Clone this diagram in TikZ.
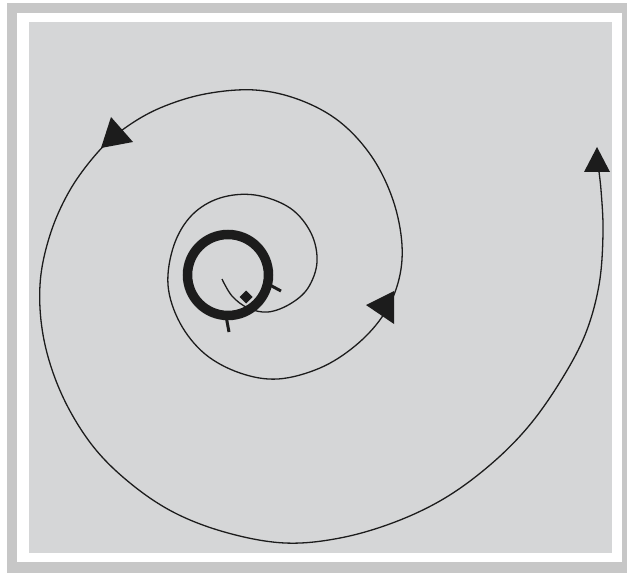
\documentclass[tikz,border=0pt]{standalone}
\definecolor{bandgray}{RGB}{199,199,199}
\definecolor{innergray}{RGB}{213,214,215}
\definecolor{ink}{RGB}{28,28,28}
\begin{document}
\begin{tikzpicture}[x=1bp,y=-1bp,
  spiralline/.style={draw=ink, line width=1.3bp},
  tiphead/.style={fill=ink},
  ringline/.style={draw=ink, line width=9.5bp},
  tickline/.style={draw=ink, line width=3bp}]
\useasboundingbox (0,0) rectangle (627,573);
\fill[white] (0,0) rectangle (627,573);
\fill[bandgray] (7,3) rectangle (627,573);
\fill[white] (17,13) rectangle (622,562);
\fill[innergray] (29,22) rectangle (612,553);
% spiral
\draw[spiralline] plot[smooth,tension=0.6] coordinates {
 (222,279) (232,296) (248,308) (268,312) (290,304) (308,288) (317,262)
 (311,233) (290,208) (255,195) (220,198) (192,215) (174,245) (168,285)
 (180,323) (205,354) (240,373) (278,379) (320,368) (355,346) (382,317)
 (398,283) (402,245) (393,200) (372,157) (340,122) (300,100) (255,90)
 (205,94) (160,108) (125,128) (98,152) (70,190) (50,235) (40,285)
 (44,340) (62,395) (92,445) (130,483) (175,513) (228,533) (285,543)
 (340,538) (395,522) (445,498) (490,465) (528,427) (560,382) (585,335)
 (599,285) (603,233) (601,190) (598,165)};
% arrowheads
\fill[tiphead] (394,291) -- (366,305) -- (394,324) -- cycle;
\fill[tiphead] (101,148) -- (111,117) -- (133,142) -- cycle;
\fill[tiphead] (597,147) -- (584,172) -- (610,172) -- cycle;
% thick ring
\draw[ringline] (228,275) circle[radius=40.5bp];
\draw[tickline] (268,284) -- (281,291);
\draw[tickline] (226,316) -- (229,332);
% small diamond
\fill[ink] (246,290.5) -- (252.5,297) -- (246,303.5) -- (239.5,297) -- cycle;
\end{tikzpicture}
\end{document}
